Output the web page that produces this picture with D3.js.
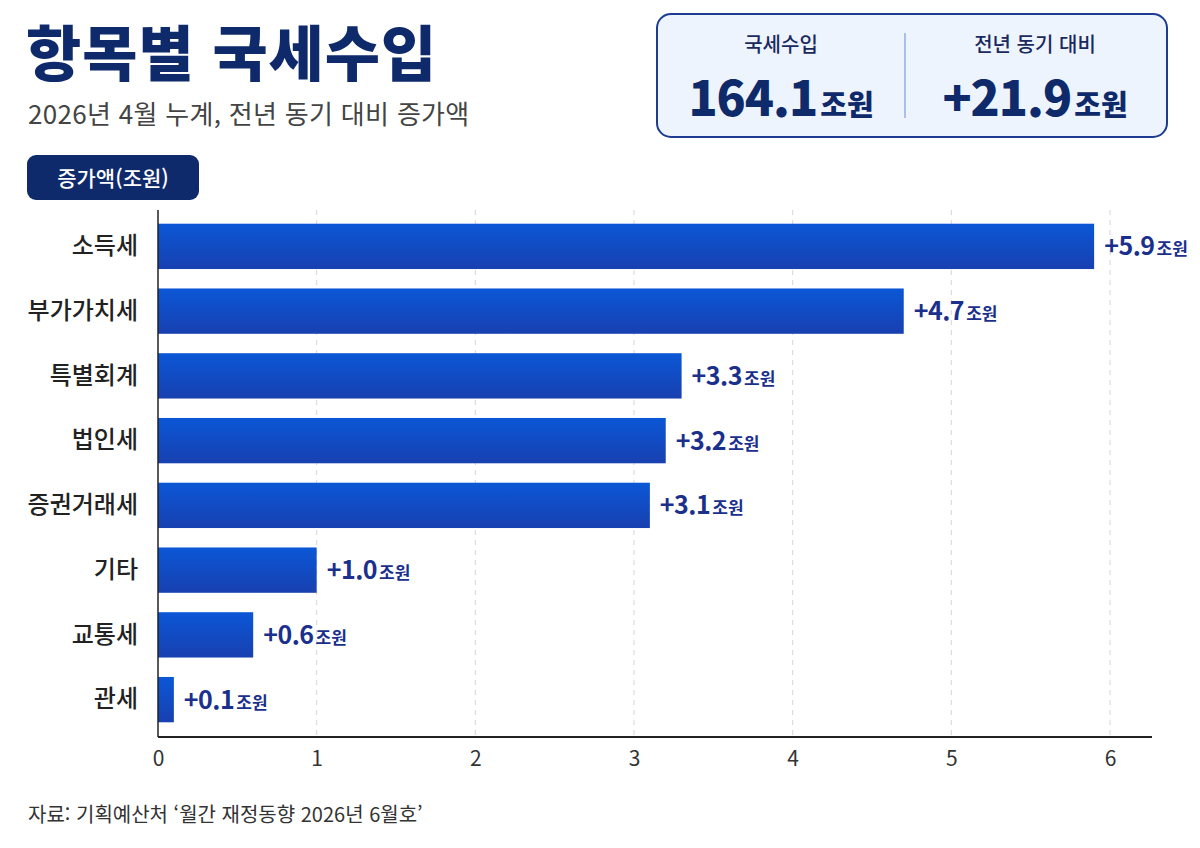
<!DOCTYPE html>
<html lang="ko">
<head>
<meta charset="UTF-8">
<title>항목별 국세수입</title>
<script src="https://d3js.org/d3.v7.min.js"></script>
<style>
  body { margin: 0; background: #fff; }
  svg { display: block; font-family: "Noto Sans CJK KR", "Noto Sans", sans-serif; }
</style>
</head>
<body>
<script>
// data
var categories = ['소득세', '부가가치세', '특별회계', '법인세', '증권거래세', '기타', '교통세', '관세'];
var increases = [5.9, 4.7, 3.3, 3.2, 3.1, 1.0, 0.6, 0.1];
var xTicks = [0, 1, 2, 3, 4, 5, 6];
var summaryLabels = ['국세수입', '전년 동기 대비'];
var summaryValues = ['164.1', '+21.9'];

var w = 1200, h = 848;
var navy = '#0f2a6b';
var labelBlue = '#1b2f8c';

var svg = d3.select('body').append('svg')
    .attr('width', w)
    .attr('height', h);

var defs = svg.append('defs');
var grad = defs.append('linearGradient')
    .attr('id', 'barGrad')
    .attr('x1', 0).attr('y1', 0).attr('x2', 0).attr('y2', 1);
grad.append('stop').attr('offset', '0%').attr('stop-color', '#0b57d6');
grad.append('stop').attr('offset', '100%').attr('stop-color', '#1840b0');

// title + subtitle
svg.append('text')
    .attr('x', 26).attr('y', 76)
    .attr('font-size', 60).attr('font-weight', 900)
    .attr('letter-spacing', 1)
    .attr('fill', navy)
    .text('항목별 국세수입');

svg.append('text')
    .attr('x', 28).attr('y', 124)
    .attr('font-size', 26)
    .attr('letter-spacing', 0.3)
    .attr('fill', '#444')
    .text('2026년 4월 누계, 전년 동기 대비 증가액');

// unit pill
svg.append('rect')
    .attr('x', 27).attr('y', 155)
    .attr('width', 172).attr('height', 45)
    .attr('rx', 9)
    .attr('fill', navy);
svg.append('text')
    .attr('x', 113).attr('y', 186)
    .attr('text-anchor', 'middle')
    .attr('font-size', 21).attr('font-weight', 500)
    .attr('fill', '#fff')
    .text('증가액(조원)');

// summary box
var box = svg.append('g');
box.append('rect')
    .attr('x', 657).attr('y', 14)
    .attr('width', 510).attr('height', 123)
    .attr('rx', 14)
    .attr('fill', '#eef4fd')
    .attr('stroke', '#1c3b91')
    .attr('stroke-width', 2);
box.append('line')
    .attr('x1', 905).attr('x2', 905)
    .attr('y1', 33).attr('y2', 118)
    .attr('stroke', '#a9c1e8')
    .attr('stroke-width', 2);

var centers = [781, 1035];
summaryLabels.forEach(function(lbl, i) {
    box.append('text')
        .attr('x', centers[i]).attr('y', 52)
        .attr('text-anchor', 'middle')
        .attr('font-size', 20).attr('font-weight', 500)
        .attr('fill', '#1a2a5e')
        .text(lbl);
    var t = box.append('text')
        .attr('x', centers[i]).attr('y', 116)
        .attr('text-anchor', 'middle')
        .attr('fill', navy)
        .attr('font-weight', 800);
    t.append('tspan').attr('font-size', 48).attr('letter-spacing', -1).text(summaryValues[i]);
    t.append('tspan').attr('font-size', 29).attr('dx', 3).text('조원');
});

// scales
var xScale = d3.scaleLinear()
    .domain([0, 6])
    .range([158, 1110]);

var yScale = d3.scaleBand()
    .domain(categories)
    .range([214, 732])
    .paddingInner(0.3)
    .paddingOuter(0.15);

// grid
svg.append('g')
    .selectAll('line')
    .data(xTicks.slice(1))
    .enter()
    .append('line')
    .attr('x1', function(d) { return xScale(d); })
    .attr('x2', function(d) { return xScale(d); })
    .attr('y1', 210)
    .attr('y2', 737)
    .attr('stroke', '#d4d7de')
    .attr('stroke-width', 1)
    .attr('stroke-dasharray', '5,5');

// bars
svg.selectAll('.bar')
    .data(increases)
    .enter()
    .append('rect')
    .attr('class', 'bar')
    .attr('x', xScale(0))
    .attr('y', function(d, i) { return yScale(categories[i]); })
    .attr('width', function(d) { return xScale(d) - xScale(0); })
    .attr('height', yScale.bandwidth())
    .attr('fill', 'url(#barGrad)');

// value labels
var vl = svg.selectAll('.val')
    .data(increases)
    .enter()
    .append('text')
    .attr('class', 'val')
    .attr('x', function(d) { return xScale(d) + 10; })
    .attr('y', function(d, i) { return yScale(categories[i]) + yScale.bandwidth() / 2 + 9; })
    .attr('fill', labelBlue)
    .attr('font-weight', 700);
vl.append('tspan')
    .attr('font-size', 25)
    .attr('letter-spacing', -0.5)
    .text(function(d) { return '+' + d.toFixed(1); });
vl.append('tspan')
    .attr('font-size', 17)
    .attr('dx', 2)
    .text('조원');

// y axis (category labels)
var yAxis = d3.axisLeft(yScale).tickSize(0).tickPadding(20);
var yg = svg.append('g')
    .attr('transform', 'translate(158,0)')
    .call(yAxis);
yg.select('.domain')
    .attr('d', 'M0,210V737')
    .attr('stroke', '#222')
    .attr('stroke-width', 1.5);
yg.selectAll('text')
    .attr('font-family', '"Noto Sans CJK KR", sans-serif')
    .attr('font-size', 24)
    .attr('font-weight', 500)
    .attr('fill', '#222');

// x axis
var xAxis = d3.axisBottom(xScale)
    .tickValues(xTicks)
    .tickFormat(d3.format('d'))
    .tickSize(0)
    .tickPadding(14);
var xg = svg.append('g')
    .attr('transform', 'translate(0,737)')
    .call(xAxis);
xg.select('.domain')
    .attr('d', 'M158,0H1152')
    .attr('stroke', '#222')
    .attr('stroke-width', 2);
xg.selectAll('text')
    .attr('font-family', '"Noto Sans CJK KR", sans-serif')
    .attr('font-size', 21)
    .attr('fill', '#333');

// source
svg.append('text')
    .attr('x', 28).attr('y', 822)
    .attr('font-size', 20)
    .attr('fill', '#333')
    .text('자료: 기획예산처 ‘월간 재정동향 2026년 6월호’');
</script>
</body>
</html>
